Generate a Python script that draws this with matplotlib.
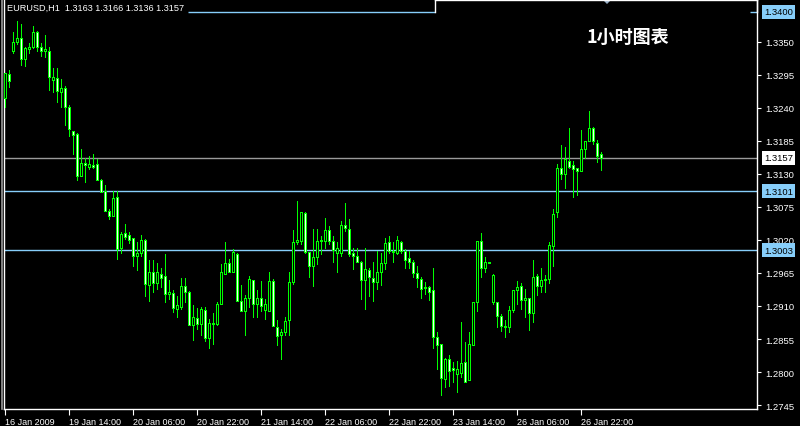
import matplotlib
matplotlib.use("Agg")
import matplotlib.pyplot as plt
from matplotlib.patches import Polygon

# ---------------- data (EURUSD H1) ----------------
opens = [1.3256, 1.3296, 1.3335, 1.3350, 1.3356, 1.3322, 1.3338, 1.3342, 1.3367, 1.3342,
         1.3335, 1.3335, 1.3287, 1.3289, 1.3267, 1.3273, 1.3242, 1.3202, 1.3196, 1.3127,
         1.3148, 1.3141, 1.3145, 1.3146, 1.3119, 1.3101, 1.3068, 1.3060, 1.3091, 1.3006,
         1.3031, 1.3028, 1.3023, 1.2994, 1.2999, 1.3020, 1.2945, 1.2967, 1.2948, 1.2964,
         1.2960, 1.2930, 1.2932, 1.2905, 1.2909, 1.2943, 1.2934, 1.2879, 1.2890, 1.2880,
         1.2903, 1.2857, 1.2881, 1.2880, 1.2913, 1.2964, 1.2981, 1.2967, 1.2997, 1.2919,
         1.2901, 1.2923, 1.2953, 1.2913, 1.2923, 1.2904, 1.2902, 1.2951, 1.2875, 1.2861,
         1.2866, 1.2886, 1.2950, 1.3016, 1.3019, 1.3065, 1.3000, 1.2977, 1.2991, 1.3018,
         1.3019, 1.3036, 1.3018, 1.2999, 1.2999, 1.3045, 1.3039, 1.2998, 1.2993, 1.2984,
         1.2954, 1.2970, 1.2956, 1.2950, 1.2967, 1.2982, 1.3016, 1.3002, 1.2999, 1.3016,
         1.3002, 1.2990, 1.2984, 1.2965, 1.2955, 1.2940, 1.2941, 1.2937, 1.2859, 1.2847,
         1.2788, 1.2822, 1.2806, 1.2797, 1.2799, 1.2816, 1.2786, 1.2845, 1.2916, 1.3019,
         1.2974, 1.2983, 1.2916, 1.2916, 1.2894, 1.2877, 1.2875, 1.2904, 1.2936, 1.2943,
         1.2920, 1.2923, 1.2898, 1.2960, 1.2943, 1.2954, 1.2955, 1.3010, 1.3066, 1.3139,
         1.3130, 1.3152, 1.3145, 1.3139, 1.3135, 1.3171, 1.3185, 1.3207, 1.3182, 1.3163]
highs = [1.3298, 1.3303, 1.3366, 1.3384, 1.3379, 1.3342, 1.3348, 1.3376, 1.3368, 1.3348,
         1.3361, 1.3341, 1.3306, 1.3306, 1.3288, 1.3277, 1.3245, 1.3202, 1.3198, 1.3171,
         1.3156, 1.3160, 1.3163, 1.3154, 1.3121, 1.3111, 1.3071, 1.3101, 1.3101, 1.3034,
         1.3046, 1.3033, 1.3023, 1.3017, 1.3028, 1.3022, 1.2987, 1.2987, 1.2982, 1.2974,
         1.2997, 1.2953, 1.2936, 1.2927, 1.2956, 1.2957, 1.2935, 1.2912, 1.2907, 1.2908,
         1.2908, 1.2888, 1.2899, 1.2916, 1.2980, 1.3017, 1.2988, 1.3005, 1.2998, 1.2945,
         1.2928, 1.2960, 1.2954, 1.2937, 1.2952, 1.2922, 1.2966, 1.2955, 1.2886, 1.2872,
         1.2891, 1.2966, 1.3037, 1.3084, 1.3067, 1.3067, 1.3000, 1.3038, 1.3038, 1.3027,
         1.3056, 1.3043, 1.3027, 1.3017, 1.3051, 1.3082, 1.3055, 1.3006, 1.3006, 1.2985,
         1.3006, 1.2973, 1.2984, 1.3002, 1.2999, 1.3023, 1.3026, 1.3017, 1.3026, 1.3019,
         1.3005, 1.3002, 1.2987, 1.2976, 1.2958, 1.2950, 1.2944, 1.2974, 1.2867, 1.2847,
         1.2824, 1.2829, 1.2816, 1.2819, 1.2883, 1.2850, 1.2866, 1.2916, 1.3019, 1.3031,
         1.2991, 1.2983, 1.2963, 1.2916, 1.2897, 1.2886, 1.2910, 1.2937, 1.2952, 1.2948,
         1.2938, 1.2924, 1.2987, 1.2963, 1.2974, 1.2962, 1.3016, 1.3071, 1.3146, 1.3178,
         1.3174, 1.3206, 1.3152, 1.3139, 1.3203, 1.3185, 1.3234, 1.3208, 1.3187, 1.3166]
lows = [1.3242, 1.3275, 1.3332, 1.3347, 1.3312, 1.3310, 1.3332, 1.3340, 1.3334, 1.3326,
        1.3324, 1.3270, 1.3267, 1.3249, 1.3242, 1.3211, 1.3193, 1.3163, 1.3120, 1.3127,
        1.3116, 1.3138, 1.3139, 1.3119, 1.3099, 1.3069, 1.3055, 1.3060, 1.2988, 1.2999,
        1.3021, 1.3015, 1.2977, 1.2970, 1.2994, 1.2927, 1.2919, 1.2933, 1.2938, 1.2941,
        1.2916, 1.2922, 1.2900, 1.2891, 1.2905, 1.2917, 1.2878, 1.2854, 1.2872, 1.2861,
        1.2852, 1.2840, 1.2847, 1.2878, 1.2913, 1.2963, 1.2966, 1.2966, 1.2918, 1.2901,
        1.2861, 1.2908, 1.2891, 1.2891, 1.2902, 1.2888, 1.2901, 1.2876, 1.2845, 1.2822,
        1.2861, 1.2861, 1.2947, 1.3013, 1.3013, 1.2999, 1.2959, 1.2943, 1.2980, 1.2997,
        1.3006, 1.3013, 1.2983, 1.2966, 1.2994, 1.3035, 1.2994, 1.2972, 1.2983, 1.2922,
        1.2905, 1.2927, 1.2919, 1.2938, 1.2945, 1.2972, 1.2998, 1.2984, 1.2996, 1.2999,
        1.2974, 1.2973, 1.2959, 1.2941, 1.2923, 1.2930, 1.2920, 1.2840, 1.2805, 1.2762,
        1.2775, 1.2776, 1.2783, 1.2767, 1.2791, 1.2783, 1.2786, 1.2845, 1.2901, 1.2959,
        1.2966, 1.2982, 1.2914, 1.2875, 1.2869, 1.2859, 1.2867, 1.2900, 1.2913, 1.2905,
        1.2891, 1.2870, 1.2884, 1.2928, 1.2934, 1.2934, 1.2949, 1.2977, 1.3059, 1.3122,
        1.3106, 1.3139, 1.3092, 1.3095, 1.3135, 1.3156, 1.3184, 1.3180, 1.3150, 1.3136]
closes = [1.3298, 1.3285, 1.3349, 1.3356, 1.3322, 1.3339, 1.3342, 1.3366, 1.3342, 1.3335,
          1.3338, 1.3291, 1.3292, 1.3268, 1.3273, 1.3241, 1.3204, 1.3195, 1.3127, 1.3148,
          1.3145, 1.3146, 1.3142, 1.3120, 1.3100, 1.3069, 1.3060, 1.3089, 1.3005, 1.3030,
          1.3025, 1.3020, 1.2994, 1.2999, 1.3020, 1.2947, 1.2967, 1.2948, 1.2966, 1.2957,
          1.2930, 1.2933, 1.2907, 1.2912, 1.2943, 1.2934, 1.2879, 1.2891, 1.2880, 1.2905,
          1.2857, 1.2881, 1.2880, 1.2913, 1.2966, 1.2982, 1.2967, 1.3000, 1.2919, 1.2902,
          1.2923, 1.2955, 1.2913, 1.2923, 1.2910, 1.2913, 1.2951, 1.2876, 1.2860, 1.2866,
          1.2885, 1.2950, 1.3016, 1.3020, 1.3066, 1.3000, 1.2976, 1.2991, 1.3018, 1.3020,
          1.3036, 1.3019, 1.3004, 1.3006, 1.3045, 1.3040, 1.2996, 1.2994, 1.2983, 1.2954,
          1.2971, 1.2958, 1.2950, 1.2966, 1.2982, 1.3015, 1.3002, 1.3000, 1.3020, 1.3002,
          1.2987, 1.2984, 1.2965, 1.2956, 1.2939, 1.2941, 1.2934, 1.2858, 1.2845, 1.2790,
          1.2822, 1.2802, 1.2804, 1.2805, 1.2815, 1.2783, 1.2847, 1.2916, 1.3019, 1.2973,
          1.2983, 1.2982, 1.2961, 1.2894, 1.2876, 1.2875, 1.2904, 1.2937, 1.2941, 1.2920,
          1.2923, 1.2898, 1.2959, 1.2943, 1.2954, 1.2955, 1.3012, 1.3064, 1.3139, 1.3130,
          1.3155, 1.3141, 1.3138, 1.3134, 1.3171, 1.3185, 1.3206, 1.3184, 1.3159, 1.3157]

time_labels = ["16 Jan 2009", "19 Jan 14:00", "20 Jan 06:00", "20 Jan 22:00",
               "21 Jan 14:00", "22 Jan 06:00", "22 Jan 22:00", "23 Jan 14:00",
               "26 Jan 06:00", "26 Jan 22:00"]
time_label_bars = [0, 16, 32, 48, 64, 80, 96, 112, 128, 144]
price_ticks = [1.2745, 1.2800, 1.2855, 1.2910, 1.2965, 1.3020, 1.3075,
               1.3130, 1.3185, 1.3240, 1.3295, 1.3350]
price_tick_labels = ["1.2745", "1.2800", "1.2855", "1.2910", "1.2965", "1.3020", "1.3075",
                     "1.3130", "1.3185", "1.3240", "1.3295", "1.3350"]
blue_levels = [1.3400, 1.3101, 1.3003]
bid_level = 1.3157
header = "EURUSD,H1  1.3163 1.3166 1.3136 1.3157"
title_cn = "1小时图表"

# ---------------- figure ----------------
W, H = 800, 427
PX = 0.72  # one pixel in points at 100 dpi
fig = plt.figure(figsize=(W / 100, H / 100), dpi=100, facecolor="black")
ax = fig.add_axes([4 / W, (H - 410) / H, (757 - 4) / W, (410 - 1) / H])
ax.set_facecolor("black")
ax.set_xlim((4 - 5.33) / 4, (757 - 5.33) / 4)
ax.set_ylim(1.27385, 1.34195)

LIME = "#00ff00"
BLUE = "#87cefa"
n = len(opens)
xs = list(range(n))

# wicks
ax.vlines(xs, lows, highs, colors=LIME, linewidth=PX, antialiased=False, zorder=3)

# bodies
for i in xs:
    o, c = opens[i], closes[i]
    lo, hi = min(o, c), max(o, c)
    if hi - lo < 0.00004:
        ax.hlines(o, i - 0.3, i + 0.3, colors=LIME, linewidth=PX,
                  antialiased=False, zorder=4)
        continue
    face = "black" if c > o else "#f0fff0"
    ax.bar(i, hi - lo, bottom=lo, width=0.5, facecolor=face, edgecolor=LIME,
           linewidth=PX, antialiased=False, zorder=4)

# horizontal levels
x_left, x_right = ax.get_xlim()
ax.hlines(blue_levels[0], (188 - 5.33) / 4, (435 - 5.33) / 4, colors=BLUE,
          linewidth=1.0, zorder=2)
ax.hlines(blue_levels[0], (750 - 5.33) / 4, x_right, colors=BLUE,
          linewidth=1.0, zorder=2)
for lv in blue_levels[1:]:
    ax.axhline(lv, color=BLUE, linewidth=1.0, zorder=2)
ax.axhline(bid_level, color="#9a9a9a", linewidth=1.0, zorder=2)

# spines & ticks
ax.spines["top"].set_visible(False)
for s in ["left", "right", "bottom"]:
    ax.spines[s].set_color("white")
    ax.spines[s].set_linewidth(1.0)

ax.yaxis.tick_right()
ax.set_yticks(price_ticks)
ax.set_yticklabels(price_tick_labels)
ax.tick_params(axis="y", colors="white", length=3, width=0.8, pad=3,
               labelsize=6.8, direction="out")
ax.set_xticks(time_label_bars)
ax.set_xticklabels(time_labels, ha="left")
ax.tick_params(axis="x", colors="white", length=4, width=0.8, pad=2,
               labelsize=6.5, direction="out")
for lab in ax.get_xticklabels() + ax.get_yticklabels():
    lab.set_fontfamily("Liberation Sans")

# level labels on price scale
ytrans = ax.get_yaxis_transform()
for lv in blue_levels:
    ax.text(1.0 + 7 / 753, lv, f"{lv:.4f}", transform=ytrans, fontsize=6.8,
            family="Liberation Sans", color="black", va="center", ha="left",
            bbox=dict(boxstyle="square,pad=0.25", facecolor=BLUE, edgecolor="none"),
            zorder=10, clip_on=False)
ax.text(1.0 + 7 / 753, bid_level, f"{bid_level:.4f}", transform=ytrans, fontsize=6.8,
        family="Liberation Sans", color="black", va="center", ha="left",
        bbox=dict(boxstyle="square,pad=0.25", facecolor="white", edgecolor="none"),
        zorder=10, clip_on=False)

# header & title
fig.text(7 / W, 1 - 8.5 / H, header, color="white", fontsize=6.6,
         family="Liberation Sans", va="center", ha="left")
fig.text(586 / W, 1 - 37.5 / H, title_cn, color="white", fontsize=13,
         fontweight="bold", family=["Noto Sans CJK SC", "DejaVu Sans"],
         va="center", ha="left")

# top border pieces and window edge
fig.add_artist(plt.Line2D([435 / W, 435 / W], [1, 1 - 13 / H], color="white", linewidth=1.0))
fig.add_artist(plt.Line2D([435 / W, 757 / W], [1 - 0.5 / H, 1 - 0.5 / H], color="white",
                          linewidth=1.0))
fig.add_artist(plt.Line2D([757 / W, 757 / W], [1, 1 - 13 / H], color="white", linewidth=1.0))
fig.add_artist(plt.Line2D([1.5 / W, 1.5 / W], [1, (H - 410) / H], color="#9a9a9a", linewidth=1.2))
# chart shift marker
fig.add_artist(Polygon([(602 / W, 1), (612 / W, 1), (607 / W, 1 - 5 / H)],
                       closed=True, facecolor="#9ab0c8", edgecolor="none",
                       transform=fig.transFigure))

fig.savefig("out.png", dpi=100, facecolor="black")
